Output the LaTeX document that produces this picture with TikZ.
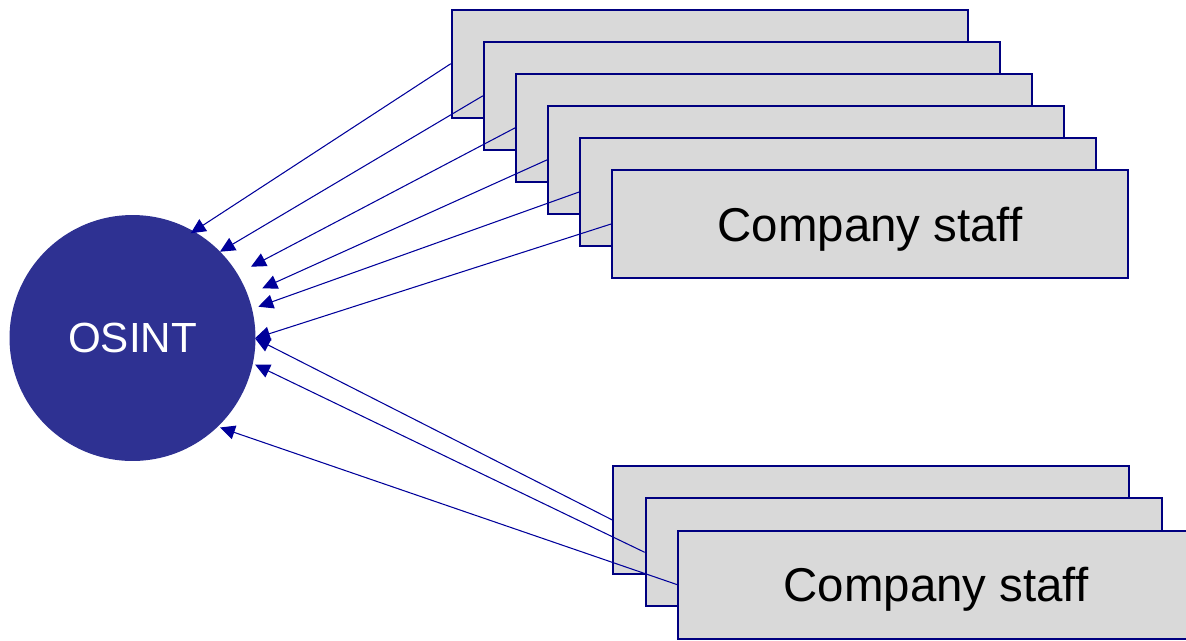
\documentclass[tikz,border=0pt]{standalone}
\usepackage{fontspec}
\setmainfont{Liberation Sans}
\usetikzlibrary{arrows.meta}
\definecolor{circ}{HTML}{2E3192}
\definecolor{arrc}{HTML}{00009A}
\definecolor{bord}{HTML}{000080}
\definecolor{boxfill}{HTML}{D9D9D9}
\tikzset{
  staffbox/.style={draw=bord, line width=1.1pt, fill=boxfill, minimum width=10.32cm, minimum height=2.16cm, inner sep=0pt, text depth=0pt, font=\fontsize{27}{32}\selectfont},
  osintnode/.style={circle, fill=circ, minimum size=4.92cm, inner sep=0pt, text=white, font=\fontsize{24}{28}\selectfont},
  arr/.style={draw=arrc, line width=0.6pt, -{Triangle[length=8.5pt,width=8pt]}, arrc},
}
\begin{document}
\begin{tikzpicture}[x=0.02cm,y=-0.02cm]
\useasboundingbox (0,0) rectangle (1186,640);
\clip (0,0) rectangle (1186,640);
\node[osintnode] (osint) at (132.5,338) {OSINT};
% top stack
\node[staffbox] (b1) at (709.7,63.7) {};
\node[staffbox] (b2) at (741.8,95.8) {};
\node[staffbox] (b3) at (773.9,127.9) {};
\node[staffbox] (b4) at (805.9,159.9) {};
\node[staffbox] (b5) at (838.0,192.0) {};
\node[staffbox] (b6) at (870.0,224.0) {Company staff};
% bottom stack
\node[staffbox] (ba) at (871.3,520) {};
\node[staffbox] (bb) at (903.6,552.3) {};
\node[staffbox] (bc) at (936,584.6) {Company staff};
% arrow tips
\coordinate (t1) at (190.7,233.3);
\coordinate (t2) at (220,251.7);
\coordinate (t3) at (251,266.7);
\coordinate (t4) at (262.3,288.3);
\coordinate (t5) at (258.3,306.7);
\coordinate (t6) at (255,338.3);
\coordinate (ta) at (255,338.3);
\coordinate (tb) at (255,364.5);
\coordinate (tc) at (220,427.5);
\draw[arr] (b1.west) -- (t1);
\draw[arr] (b2.west) -- (t2);
\draw[arr] (b3.west) -- (t3);
\draw[arr] (b4.west) -- (t4);
\draw[arr] (b5.west) -- (t5);
\draw[arr] (b6.west) -- (t6);
\draw[arr] (ba.west) -- (ta);
\draw[arr] (bb.west) -- (tb);
\draw[arr] (bc.west) -- (tc);
\end{tikzpicture}
\end{document}
